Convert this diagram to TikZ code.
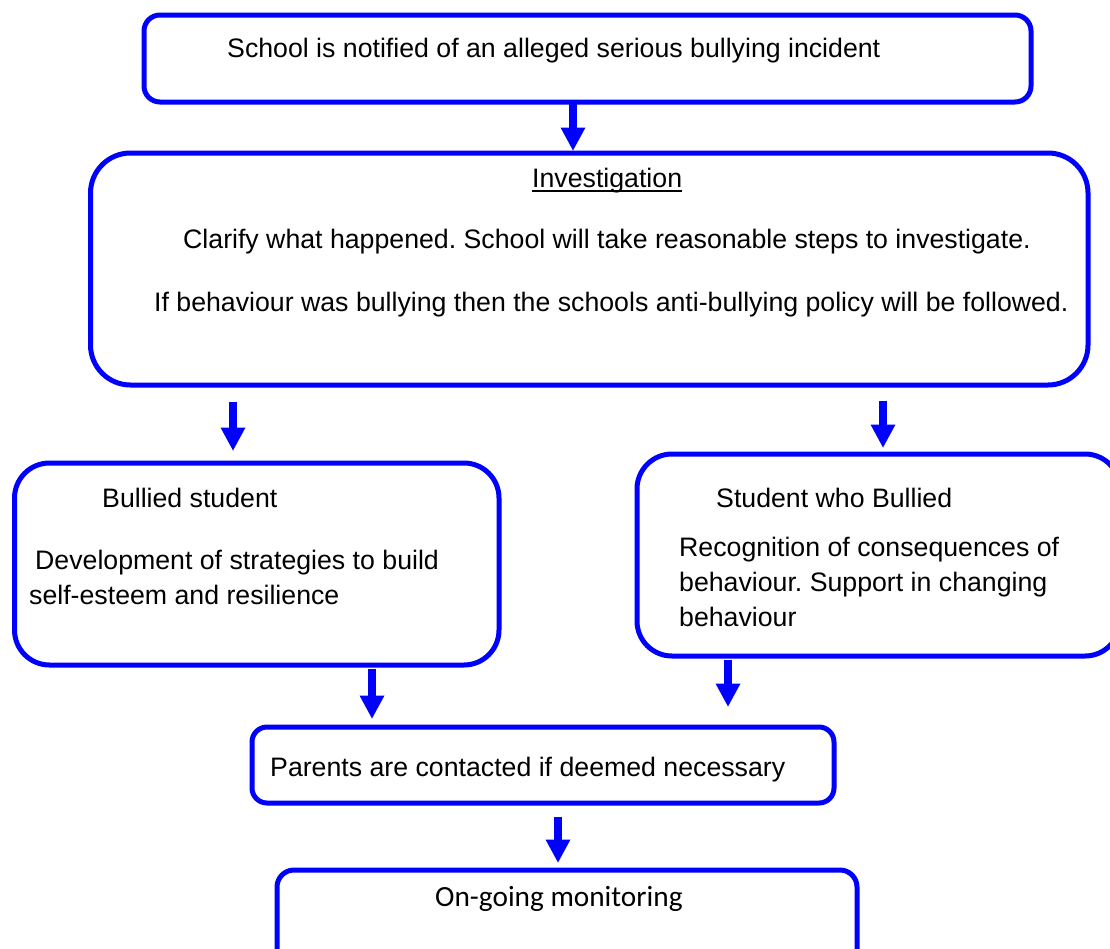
\documentclass[tikz,border=0pt]{standalone}
\usepackage{fontspec}
\setmainfont{Liberation Sans}
\newfontfamily\carlitofont{Carlito}
\usetikzlibrary{arrows.meta}
\definecolor{flowblue}{RGB}{0,0,255}
\frenchspacing
\newcommand{\ruledword}[1]{\setbox0\hbox{#1}\rlap{\rule[-4.5pt]{\wd0}{2pt}}\box0}
\begin{document}
\begin{tikzpicture}[x=1pt,y=-1pt,
  box/.style={draw=flowblue, line width=5pt, rectangle, inner sep=0pt},
  txt/.style={anchor=base west, inner sep=0pt, text=black,
              font=\fontsize{26.7}{35}\selectfont},
  flow/.style={draw=flowblue, line width=8pt,
               -{Triangle[width=25pt,length=23pt,line width=0pt]}}]
\path[use as bounding box, clip] (0,0) rectangle (1110,948);

% boxes
\node[box, rounded corners=16pt, minimum width=887pt,   minimum height=87pt]  (notify)  at (587.5,58.5) {};
\node[box, rounded corners=40pt, minimum width=997.5pt, minimum height=232pt] (invest)  at (589.25,269) {};
\node[box, rounded corners=35pt, minimum width=484.5pt, minimum height=202pt] (victim)  at (256.75,564) {};
\node[box, rounded corners=35pt, minimum width=483pt,   minimum height=202pt] (bully)   at (878.5,555) {};
\node[box, rounded corners=15pt, minimum width=582pt,   minimum height=76pt]  (parents) at (543,765) {};
\node[box, rounded corners=17pt, minimum width=580pt,   minimum height=120pt] (monitor) at (567,930) {};

% texts
\node[txt] (tnotify) at (227,57) {School is notified of an alleged serious bullying incident};
\node[txt] (tinvhead) at (532,187) {\ruledword{Investigation}};
\node[txt] (tinvA) at (183,248) {Clarify what happened. School will take reasonable steps to investigate.};
\node[txt] (tinvB) at (154,311) {If behaviour was bullying then the schools anti-bullying policy will be followed.};
\node[txt] (tvichead) at (102,507) {Bullied student};
\node[txt] (tvicA) at (35,569) {Development of strategies to build};
\node[txt] (tvicB) at (29,604) {self-esteem and resilience};
\node[txt] (tbulhead) at (716,507) {Student who Bullied};
\node[txt] (tbulA) at (679,556) {Recognition of consequences of};
\node[txt] (tbulB) at (679,591) {behaviour. Support in changing};
\node[txt] (tbulC) at (679,626) {behaviour};
\node[txt] (tparents) at (270,776) {Parents are contacted if deemed necessary};
\node[txt, font=\carlitofont\fontsize{29.3}{35}\selectfont] (tmonitor) at (435,906) {On-going monitoring};

% arrow columns
\coordinate (colA) at (573,0);
\coordinate (colB) at (233,0);
\coordinate (colC) at (883,0);
\coordinate (colD) at (372,0);
\coordinate (colE) at (728,0);
\coordinate (colF) at (558,0);

% connectors
\draw[flow, shorten <=-3pt] (notify.south -| colA) -- (invest.north -| colA);
\draw[flow, shorten <=14pt, shorten >=10pt] (invest.south -| colB) -- (victim.north -| colB);
\draw[flow, shorten <=13pt, shorten >=4pt] (invest.south -| colC) -- (bully.north -| colC);
\draw[flow, shorten <=1pt, shorten >=6pt] (victim.south -| colD) -- (parents.north -| colD);
\draw[flow, shorten <=1pt, shorten >=18pt] (bully.south -| colE) -- (parents.north -| colE);
\draw[flow, shorten <=11pt, shorten >=5pt] (parents.south -| colF) -- (monitor.north -| colF);
\end{tikzpicture}
\end{document}
